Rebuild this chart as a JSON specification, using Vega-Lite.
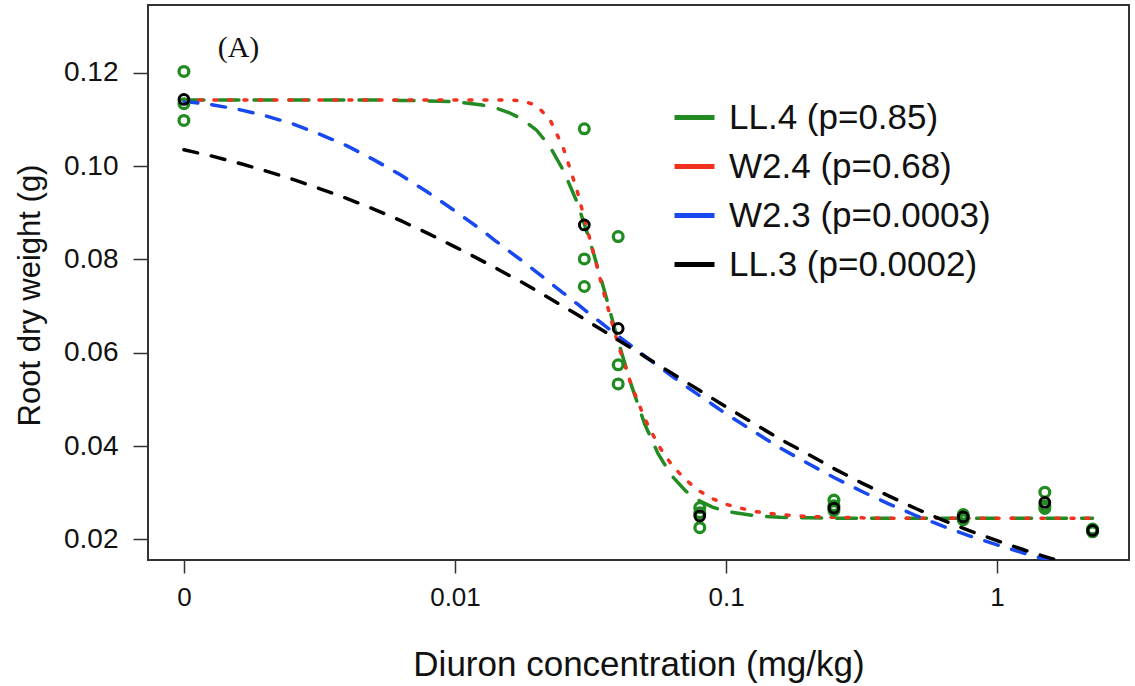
{
  "$schema": "https://vega.github.io/schema/vega-lite/v6.json",
  "width": 981,
  "height": 555,
  "autosize": {"type": "none"},
  "padding": {"left": 148, "top": 5, "right": 6, "bottom": 126},
  "background": "white",
  "config": {
    "view": {"stroke": "#333333", "strokeWidth": 2},
    "font": "Liberation Sans"
  },
  "datasets": {
    "curves": [
      {"dose": 0.001, "LL4": 0.1142, "W24": 0.1142, "W23": 0.1139, "LL3": 0.1035},
      {"dose": 0.00126, "LL4": 0.1142, "W24": 0.1142, "W23": 0.1132, "LL3": 0.1022},
      {"dose": 0.00158, "LL4": 0.1142, "W24": 0.1142, "W23": 0.1122, "LL3": 0.1007},
      {"dose": 0.002, "LL4": 0.1142, "W24": 0.1142, "W23": 0.1108, "LL3": 0.0990},
      {"dose": 0.00251, "LL4": 0.1142, "W24": 0.1142, "W23": 0.1091, "LL3": 0.0972},
      {"dose": 0.00316, "LL4": 0.1142, "W24": 0.1142, "W23": 0.1069, "LL3": 0.0952},
      {"dose": 0.00398, "LL4": 0.1142, "W24": 0.1142, "W23": 0.1044, "LL3": 0.0931},
      {"dose": 0.00501, "LL4": 0.1142, "W24": 0.1142, "W23": 0.1014, "LL3": 0.0908},
      {"dose": 0.00631, "LL4": 0.1141, "W24": 0.1142, "W23": 0.0981, "LL3": 0.0883},
      {"dose": 0.00794, "LL4": 0.1140, "W24": 0.1142, "W23": 0.0944, "LL3": 0.0856},
      {"dose": 0.01, "LL4": 0.1138, "W24": 0.1142, "W23": 0.0904, "LL3": 0.0827},
      {"dose": 0.0126, "LL4": 0.1131, "W24": 0.1142, "W23": 0.0862, "LL3": 0.0797},
      {"dose": 0.0141, "LL4": 0.1125, "W24": 0.1142, "W23": 0.0840, "LL3": 0.0782},
      {"dose": 0.0158, "LL4": 0.1115, "W24": 0.1142, "W23": 0.0818, "LL3": 0.0766},
      {"dose": 0.0178, "LL4": 0.1100, "W24": 0.1140, "W23": 0.0796, "LL3": 0.0750},
      {"dose": 0.02, "LL4": 0.1077, "W24": 0.1130, "W23": 0.0773, "LL3": 0.0733},
      {"dose": 0.0224, "LL4": 0.1042, "W24": 0.1100, "W23": 0.0750, "LL3": 0.0716},
      {"dose": 0.0251, "LL4": 0.0991, "W24": 0.1039, "W23": 0.0728, "LL3": 0.0699},
      {"dose": 0.0282, "LL4": 0.0923, "W24": 0.0948, "W23": 0.0705, "LL3": 0.0682},
      {"dose": 0.0316, "LL4": 0.0836, "W24": 0.0839, "W23": 0.0682, "LL3": 0.0664},
      {"dose": 0.0355, "LL4": 0.0735, "W24": 0.0726, "W23": 0.0659, "LL3": 0.0646},
      {"dose": 0.0398, "LL4": 0.0629, "W24": 0.0621, "W23": 0.0637, "LL3": 0.0628},
      {"dose": 0.0447, "LL4": 0.0531, "W24": 0.0531, "W23": 0.0615, "LL3": 0.0610},
      {"dose": 0.0501, "LL4": 0.0447, "W24": 0.0459, "W23": 0.0593, "LL3": 0.0592},
      {"dose": 0.0562, "LL4": 0.0383, "W24": 0.0402, "W23": 0.0571, "LL3": 0.0574},
      {"dose": 0.0631, "LL4": 0.0336, "W24": 0.0359, "W23": 0.0550, "LL3": 0.0556},
      {"dose": 0.0708, "LL4": 0.0304, "W24": 0.0328, "W23": 0.0529, "LL3": 0.0538},
      {"dose": 0.0794, "LL4": 0.0283, "W24": 0.0304, "W23": 0.0509, "LL3": 0.0520},
      {"dose": 0.0891, "LL4": 0.0269, "W24": 0.0287, "W23": 0.0489, "LL3": 0.0502},
      {"dose": 0.1, "LL4": 0.0260, "W24": 0.0275, "W23": 0.0469, "LL3": 0.0484},
      {"dose": 0.126, "LL4": 0.0251, "W24": 0.0260, "W23": 0.0432, "LL3": 0.0449},
      {"dose": 0.158, "LL4": 0.0247, "W24": 0.0253, "W23": 0.0396, "LL3": 0.0415},
      {"dose": 0.2, "LL4": 0.0246, "W24": 0.0249, "W23": 0.0363, "LL3": 0.0383},
      {"dose": 0.251, "LL4": 0.0245, "W24": 0.0247, "W23": 0.0332, "LL3": 0.0351},
      {"dose": 0.316, "LL4": 0.0245, "W24": 0.0246, "W23": 0.0303, "LL3": 0.0321},
      {"dose": 0.398, "LL4": 0.0245, "W24": 0.0245, "W23": 0.0276, "LL3": 0.0293},
      {"dose": 0.501, "LL4": 0.0245, "W24": 0.0245, "W23": 0.0251, "LL3": 0.0266},
      {"dose": 0.631, "LL4": 0.0245, "W24": 0.0245, "W23": 0.0228, "LL3": 0.0241},
      {"dose": 0.794, "LL4": 0.0245, "W24": 0.0245, "W23": 0.0207, "LL3": 0.0218},
      {"dose": 1, "LL4": 0.0245, "W24": 0.0245, "W23": 0.0188, "LL3": 0.0197},
      {"dose": 1.26, "LL4": 0.0245, "W24": 0.0245, "W23": 0.0170, "LL3": 0.0177},
      {"dose": 1.58, "LL4": 0.0245, "W24": 0.0245, "W23": 0.0154, "LL3": 0.0159},
      {"dose": 2, "LL4": 0.0245, "W24": 0.0245, "W23": 0.0139, "LL3": 0.0142},
      {"dose": 2.25, "LL4": 0.0245, "W24": 0.0245, "W23": 0.0132, "LL3": 0.0134}
    ],
    "obs": [
      {"dose": 0, "weight": 0.1203},
      {"dose": 0, "weight": 0.1134},
      {"dose": 0, "weight": 0.1098},
      {"dose": 0.03, "weight": 0.108},
      {"dose": 0.03, "weight": 0.0801},
      {"dose": 0.03, "weight": 0.0742},
      {"dose": 0.04, "weight": 0.0849},
      {"dose": 0.04, "weight": 0.0574},
      {"dose": 0.04, "weight": 0.0533},
      {"dose": 0.08, "weight": 0.0268},
      {"dose": 0.08, "weight": 0.0257},
      {"dose": 0.08, "weight": 0.0225},
      {"dose": 0.25, "weight": 0.0284},
      {"dose": 0.25, "weight": 0.0272},
      {"dose": 0.25, "weight": 0.0262},
      {"dose": 0.75, "weight": 0.0253},
      {"dose": 0.75, "weight": 0.0248},
      {"dose": 0.75, "weight": 0.0242},
      {"dose": 1.5, "weight": 0.0301},
      {"dose": 1.5, "weight": 0.0272},
      {"dose": 1.5, "weight": 0.0266},
      {"dose": 2.25, "weight": 0.0222},
      {"dose": 2.25, "weight": 0.0219},
      {"dose": 2.25, "weight": 0.0216}
    ],
    "means": [
      {"dose": 0, "weight": 0.1143},
      {"dose": 0.03, "weight": 0.0874},
      {"dose": 0.04, "weight": 0.0652},
      {"dose": 0.08, "weight": 0.025},
      {"dose": 0.25, "weight": 0.0267},
      {"dose": 0.75, "weight": 0.0248},
      {"dose": 1.5, "weight": 0.0279},
      {"dose": 2.25, "weight": 0.0219}
    ]
  },
  "resolve": {"legend": {"color": "independent"}},
  "layer": [
    {
      "data": {"name": "curves"},
      "transform": [
        {"fold": ["LL4", "W24", "W23", "LL3"], "as": ["model", "weight"]}
      ],
      "mark": {"type": "line", "clip": true, "strokeWidth": 3.5, "strokeCap": "round"},
      "encoding": {
        "x": {
          "field": "dose", "type": "quantitative",
          "scale": {"type": "log", "domain": [0.000737, 3.066], "nice": false},
          "axis": {
            "values": [0.001, 0.01, 0.1, 1],
            "labelExpr": "datum.value < 0.005 ? '0' : datum.value < 0.05 ? '0.01' : datum.value < 0.5 ? '0.1' : '1'",
            "domain": false, "grid": false,
            "tickSize": 13, "tickWidth": 1.5, "tickColor": "#333333",
            "labelFontSize": 26, "labelPadding": 11, "labelColor": "#111111",
            "labelFlush": false, "labelOverlap": false,
            "title": "Diuron concentration (mg/kg)",
            "titleFontSize": 35, "titleFontWeight": "normal", "titleColor": "#111111",
            "titleY": 115, "titleBaseline": "alphabetic"
          }
        },
        "y": {
          "field": "weight", "type": "quantitative",
          "scale": {"domain": [0.01556, 0.13455], "nice": false, "zero": false},
          "axis": {
            "values": [0.02, 0.04, 0.06, 0.08, 0.1, 0.12],
            "format": ".2f",
            "domain": false, "grid": false,
            "tickSize": 15, "tickWidth": 1.5, "tickColor": "#333333",
            "labelFontSize": 28, "labelPadding": 15, "labelColor": "#111111",
            "labelFlush": false, "labelOverlap": false,
            "title": "Root dry weight (g)",
            "titleFontSize": 31, "titleFontWeight": "normal", "titleColor": "#111111",
            "titleX": -118, "titleY": 290, "titleBaseline": "middle"
          }
        },
        "color": {
          "field": "model", "type": "nominal",
          "scale": {"domain": ["LL4", "W24", "W23", "LL3"], "range": ["#228B22", "#F2301E", "#1748F0", "#000000"]},
          "legend": null
        },
        "strokeDash": {
          "field": "model", "type": "nominal",
          "scale": {"domain": ["LL4", "W24", "W23", "LL3"], "range": [[20, 15], [3, 12], [14, 14], [14, 14]]},
          "legend": null
        }
      }
    },
    {
      "data": {"values": []},
      "mark": {"type": "line", "strokeWidth": 5},
      "encoding": {
        "x": {"field": "dose", "type": "quantitative"},
        "y": {"field": "weight", "type": "quantitative"},
        "color": {
          "field": "model", "type": "nominal",
          "legend": {
            "title": null, "orient": "none", "legendX": 524, "legendY": 90,
            "symbolType": "stroke", "symbolSize": 1600, "symbolStrokeWidth": 5,
            "labelFontSize": 35, "labelOffset": 12, "rowPadding": 8, "padding": 0,
            "labelLimit": 500, "labelColor": "#111111",
            "labelExpr": "datum.label == 'LL4' ? 'LL.4 (p=0.85)' : datum.label == 'W24' ? 'W2.4 (p=0.68)' : datum.label == 'W23' ? 'W2.3 (p=0.0003)' : 'LL.3 (p=0.0002)'"
          }
        }
      }
    },
    {
      "data": {"name": "obs"},
      "transform": [{"calculate": "datum.dose == 0 ? 0.001 : datum.dose", "as": "xpos"}],
      "mark": {"type": "point", "shape": "circle", "filled": false, "size": 95, "strokeWidth": 3.3, "color": "#228B22", "opacity": 1},
      "encoding": {
        "x": {"field": "xpos", "type": "quantitative"},
        "y": {"field": "weight", "type": "quantitative"}
      }
    },
    {
      "data": {"name": "means"},
      "transform": [{"calculate": "datum.dose == 0 ? 0.001 : datum.dose", "as": "xpos"}],
      "mark": {"type": "point", "shape": "circle", "filled": false, "size": 95, "strokeWidth": 3, "color": "#000000", "opacity": 1},
      "encoding": {
        "x": {"field": "xpos", "type": "quantitative"},
        "y": {"field": "weight", "type": "quantitative"}
      }
    },
    {
      "data": {"values": [{}]},
      "mark": {"type": "text", "text": "(A)", "font": "Liberation Serif", "fontSize": 30, "align": "center", "baseline": "middle", "color": "#111111"},
      "encoding": {
        "x": {"datum": 0.00159},
        "y": {"datum": 0.1254}
      }
    }
  ]
}
